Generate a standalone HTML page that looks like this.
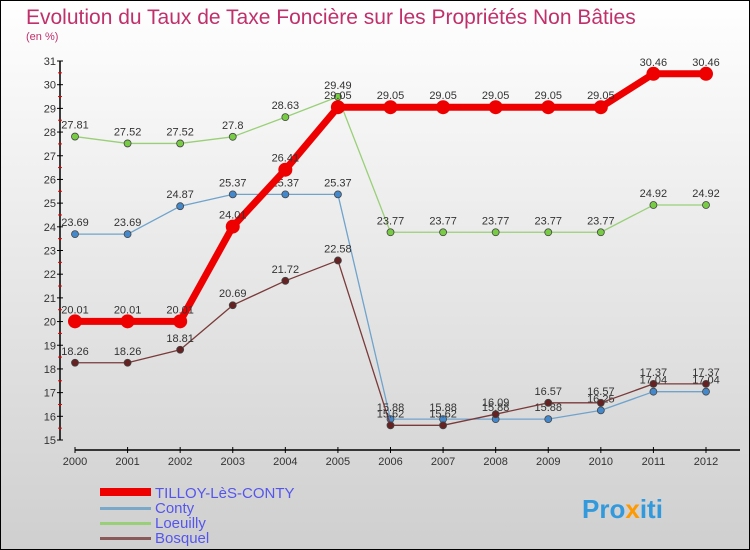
<!DOCTYPE html>
<html><head><meta charset="utf-8"><style>
body{margin:0}
#c{width:750px;height:550px;position:relative;overflow:hidden}
svg text{font-family:"Liberation Sans",sans-serif}
</style></head><body>
<div id="c">
<svg id="s" width="750" height="550" xmlns="http://www.w3.org/2000/svg">
<defs><linearGradient id="bg" x1="0" y1="0" x2="0" y2="1"><stop offset="0" stop-color="#ffffff"/><stop offset="1" stop-color="#cfcfcf"/></linearGradient></defs>
<rect x="0.5" y="0.5" width="749" height="549" fill="url(#bg)" stroke="#000"/>
<text x="26" y="24" font-size="21" fill="#c0306a">Evolution du Taux de Taxe Foncière sur les Propriétés Non Bâties</text>
<text x="26" y="40" font-size="11" fill="#c0306a">(en %)</text>
<g id="axes"></g><g id="series"></g>
<g>
<rect x="100" y="488" width="51" height="8" fill="#e00"/>
<text x="155" y="498" font-size="15" fill="#5555ee">TILLOY-LèS-CONTY</text>
<rect x="100" y="507" width="51" height="3" fill="#7aa8c8"/>
<text x="155" y="513" font-size="15" fill="#5555ee">Conty</text>
<rect x="100" y="522" width="51" height="3" fill="#99d077"/>
<text x="155" y="528" font-size="15" fill="#5555ee">Loeuilly</text>
<rect x="100" y="537" width="51" height="3" fill="#8a5a5a"/>
<text x="155" y="543" font-size="15" fill="#5555ee">Bosquel</text>
</g>
<text x="582" y="518" font-size="26" font-weight="bold" fill="#3399dd">Pro<tspan fill="#ff9900">x</tspan>iti</text>
</svg></div>
<script>
const years=[2000,2001,2002,2003,2004,2005,2006,2007,2008,2009,2010,2011,2012];
const yTicks=[15,16,17,18,19,20,21,22,23,24,25,26,27,28,29,30,31];
const tilloy=[20.01,20.01,20.01,24.01,26.41,29.05,29.05,29.05,29.05,29.05,29.05,30.46,30.46];
const conty=[23.69,23.69,24.87,25.37,25.37,25.37,15.88,15.88,15.88,15.88,16.25,17.04,17.04];
const loeuilly=[27.81,27.52,27.52,27.8,28.63,29.49,23.77,23.77,23.77,23.77,23.77,24.92,24.92];
const bosquel=[18.26,18.26,18.81,20.69,21.72,22.58,15.62,15.62,16.09,16.57,16.57,17.37,17.37];
const NS="http://www.w3.org/2000/svg";
const xs=i=>75+i*(706-75)/12;
const ys=v=>61+(31-v)*(440-61)/16;
function mk(t,a,p){const e=document.createElementNS(NS,t);for(const k in a)e.setAttribute(k,a[k]);p.appendChild(e);return e;}
const ax=document.getElementById('axes');
let l=mk('line',{x1:60,y1:61,x2:60,y2:440,stroke:'#000','stroke-width':1.5},ax);


yTicks.forEach(v=>{
 const t=mk('line',{x1:57,x2:63,y1:ys(v),y2:ys(v),stroke:'#000'},ax);
 
 
 if(v<31){const m=mk('line',{x1:58,x2:62,y1:ys(v+0.5),y2:ys(v+0.5),stroke:'#e00'},ax);
 
 }
 const tx=mk('text',{x:56,y:ys(v)+4,'font-size':11,'text-anchor':'end',fill:'#333'},ax);tx.textContent=v;
 
 
});
l=mk('line',{x1:75,y1:450,x2:740,y2:450,stroke:'#000','stroke-width':1.5},ax);


years.forEach((y,i)=>{
 const t=mk('line',{x1:xs(i),x2:xs(i),y1:447,y2:453,stroke:'#000'},ax);
 
 
 const tx=mk('text',{x:xs(i),y:465,'font-size':11,'text-anchor':'middle',fill:'#333'},ax);tx.textContent=y;
 
 
});
const sg=document.getElementById('series');
function series(name,data,color,w,r,fill,lab){
 const g=mk('g',{},sg);
 
 
 const pl=mk('polyline',{points:data.map((v,i)=>xs(i)+','+ys(v)).join(' '),fill:'none',stroke:color,'stroke-width':w,'stroke-linejoin':'round'},g);
 
 
 data.forEach((v,i)=>{
  const c=mk('circle',{cx:xs(i),cy:ys(v),r:r,fill:fill,stroke:'#444','stroke-width':r>5?0:0.8},g);
  
  
  const t=mk('text',{x:xs(i),y:ys(v)-8,'font-size':11,'text-anchor':'middle',fill:'#333'},g);
  t.textContent=String(v).replace('.','.');
  
  
 });
}
series('loeuilly',loeuilly,'#99d077',1.3,3.5,'#77cc44');
series('conty',conty,'#6fa3cc',1.3,3.5,'#4488cc');
series('bosquel',bosquel,'#7a3a3a',1.3,3.5,'#662222');
series('tilloy',tilloy,'#ee0000',7,7,'#ee0000');
</script>
</body></html>
